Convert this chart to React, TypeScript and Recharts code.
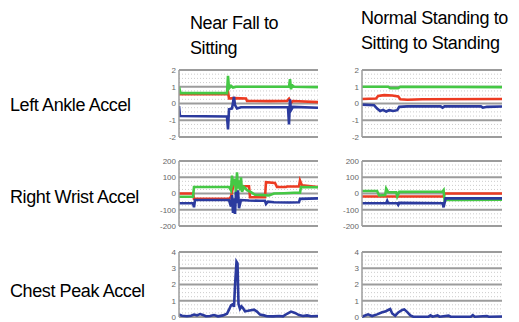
import React from 'react';
import { LineChart, Line, XAxis, YAxis, CartesianGrid, ReferenceLine } from 'recharts';

type Pt = [number, number];

// Column and row titles
const colTitles = [['Near Fall to', 'Sitting'], ['Normal Standing to', 'Sitting to Standing']];
const rowTitles = ['Left Ankle Accel', 'Right Wrist Accel', 'Chest Peak Accel'];

// Y tick labels per row
const ankleTicks = [-2, -1, 0, 1, 2];
const wristTicks = [-200, -100, 0, 100, 200];
const chestTicks = [0, 1, 2, 3, 4];

// Left ankle, near fall
const ankleFallRed: Pt[] = [[0,0.55],[48,0.55],[49,0.7],[50,0.3],[55,0.32],[67,0.3],[68,0.15],[90,0.14],[108,0.15],[110,0.28],[112,0.05],[114,0.15],[139,0.08]];
const ankleFallGreen: Pt[] = [[0,1.0],[1.5,0.62],[48,0.62],[49,1.65],[50,0.9],[52,1.05],[54,0.95],[57,1.0],[110,1.0],[111,1.45],[112,0.85],[113,1.1],[115,1.0],[139,0.98]];
const ankleFallBlue: Pt[] = [[0,-0.15],[1,-0.75],[48,-0.78],[49,-1.55],[50,-0.35],[53,-0.3],[55,0.4],[56,-0.1],[58,-0.3],[62,-0.22],[109,-0.22],[110,-1.25],[111,0.25],[112,-0.4],[114,-0.2],[139,-0.25]];

// Left ankle, normal
const ankleNormRed: Pt[] = [[0,0.27],[14,0.3],[16,0.45],[22,0.5],[30,0.48],[36,0.42],[38,0.25],[45,0.22],[60,0.25],[139,0.27]];
const ankleNormGreen: Pt[] = [[0,1.0],[26,1.0],[28,0.92],[36,0.92],[38,1.0],[139,0.98]];
const ankleNormBlue: Pt[] = [[0,-0.07],[12,-0.1],[15,-0.3],[18,-0.45],[21,-0.38],[24,-0.48],[27,-0.4],[31,-0.45],[35,-0.4],[37,-0.2],[45,-0.17],[78,-0.17],[80,-0.25],[82,-0.17],[118,-0.17],[120,-0.25],[124,-0.2],[139,-0.18]];

// Right wrist, near fall
const wristFallRed: Pt[] = [[0,0],[14,0],[15,-33],[50,-33],[52,-20],[55,70],[60,70],[62,45],[70,45],[71,-23],[86,-23],[87,70],[96,65],[98,40],[107,40],[108,43],[120,43],[121,80],[123,50],[139,40]];
const wristFallGreen: Pt[] = [[0,-20],[14,-20],[15,40],[50,40],[52,20],[53,110],[54,60],[56,90],[57,-10],[58,130],[59,30],[60,80],[61,20],[62,100],[63,10],[65,40],[68,20],[72,8],[76,-8],[85,-10],[90,-12],[95,0],[105,2],[115,5],[121,5],[122,40],[139,38]];
const wristFallBlue: Pt[] = [[0,-60],[14,-60],[15,-85],[16,-40],[50,-40],[52,-80],[53,-10],[54,-120],[55,-30],[56,-126],[57,10],[58,-60],[59,20],[60,-90],[62,-40],[70,-43],[80,-45],[86,-45],[87,-64],[89,-50],[95,-54],[110,-55],[120,-54],[121,-33],[139,-30]];

// Right wrist, normal
const wristNormRed: Pt[] = [[0,-18],[81,-18],[82,0],[139,0]];
const wristNormGreen: Pt[] = [[0,15],[15,15],[17,-12],[23,-10],[24,30],[26,8],[34,8],[35,-18],[37,10],[80,12],[81,20],[82,-43],[84,-38],[100,-40],[139,-38]];
const wristNormBlue: Pt[] = [[0,-60],[24,-60],[25,-45],[26,-60],[35,-60],[36,-70],[37,-58],[80,-60],[81,-85],[83,-30],[139,-30]];

// Chest peak, near fall
const chestFallBlue: Pt[] = [[0,0.15],[3,0.08],[8,0.05],[12,0.08],[15,0.15],[18,0.1],[21,0.18],[24,0.12],[27,0.05],[31,0.06],[35,0.12],[39,0.04],[44,0.1],[48,0.2],[50,0.45],[52,0.72],[54,0.8],[55,0.62],[56,1.9],[57.5,3.4],[58.5,3.3],[59.5,0.8],[61,0.5],[62.5,0.65],[64,0.55],[66,0.35],[69,0.38],[72,0.42],[75,0.45],[78,0.33],[81,0.15],[85,0.1],[88,0.05],[94,0.04],[100,0.06],[104,0.04],[108,0.2],[112,0.33],[116,0.25],[120,0.12],[124,0.06],[128,0.1],[132,0.05],[139,0.06]];

// Chest peak, normal
const chestNormBlue: Pt[] = [[0,0.02],[6,0.16],[10,0.06],[15,0.16],[20,0.29],[23,0.33],[26,0.43],[28,0.49],[30,0.22],[33,0.08],[36,0.28],[40,0.43],[42,0.47],[45,0.3],[48,0.1],[51,0.02],[58,0.02],[66,0.02],[68,0.1],[70,0.02],[75,0.1],[77,0.02],[86,0.08],[88,0.02],[108,0.02],[110,0.12],[112,0.02],[124,0.06],[126,0.02],[139,0.03]];

const RED = '#ec3b22';
const GREEN = '#45c845';
const BLUE = '#2b3a9e';
const FONT = '"Liberation Sans", Arial, sans-serif';

const toData = (pts: Pt[]) => pts.map(([x, y]) => ({ x, y }));

interface PanelProps {
  left: number;
  top: number;
  plotW: number;
  plotH: number;
  ticks: number[];
  series: { pts: Pt[]; color: string }[];
}

const YW = 34;
const MT = 5;
const MB = 4;

function Panel({ left, top, plotW, plotH, ticks, series }: PanelProps) {
  const lo = ticks[0];
  const hi = ticks[ticks.length - 1];
  const step = ticks[1] - ticks[0];
  const minor: number[] = [];
  for (let v = lo; v < hi - 1e-9; v += step) {
    for (let k = 1; k < 4; k++) minor.push(v + (step * k) / 4);
  }
  return (
    <div style={{ position: 'absolute', left: left - YW, top: top - MT }}>
      <LineChart
        width={YW + plotW + 2}
        height={plotH + MT + MB}
        margin={{ top: MT, right: 2, bottom: MB, left: 0 }}
      >
        <CartesianGrid vertical={false} stroke="#9c9c9c" strokeWidth={2} />
        {minor.map((v) => (
          <ReferenceLine key={v} y={v} stroke="#cccccc" strokeDasharray="1 2" strokeWidth={1} />
        ))}
        <XAxis type="number" dataKey="x" domain={[0, 139]} hide allowDataOverflow />
        <YAxis
          type="number"
          domain={[lo, hi]}
          ticks={ticks}
          interval={0}
          width={YW}
          axisLine={{ stroke: '#9c9c9c', strokeWidth: 1.5 }}
          tickLine={false}
          tickMargin={2}
          tickSize={1}
          tick={{ fontSize: 8, fill: '#666', fontFamily: FONT }}
        />
        {series.map((s, i) => (
          <Line
            key={i}
            data={toData(s.pts)}
            dataKey="y"
            type="linear"
            stroke={s.color}
            strokeWidth={2.6}
            dot={false}
            activeDot={false}
            isAnimationActive={false}
          />
        ))}
      </LineChart>
    </div>
  );
}

const textStyle: React.CSSProperties = {
  position: 'absolute',
  fontFamily: FONT,
  fontSize: 18,
  lineHeight: '25px',
  color: '#000',
  whiteSpace: 'nowrap',
  letterSpacing: '-0.4px',
};

export default function App() {
  const leftX = 179;
  const rightX = 362;
  const rows = [
    { top: 70, h: 67, ticks: ankleTicks },
    { top: 161, h: 65, ticks: wristTicks },
    { top: 252, h: 65, ticks: chestTicks },
  ];
  return (
    <div style={{ position: 'absolute', left: 0, top: 0, width: 519, height: 322, background: '#fff', overflow: 'hidden' }}>
      <div style={{ ...textStyle, left: 190, top: 11 }}>
        {colTitles[0][0]}
        <br />
        {colTitles[0][1]}
      </div>
      <div style={{ ...textStyle, left: 361, top: 6 }}>
        {colTitles[1][0]}
        <br />
        {colTitles[1][1]}
      </div>
      <div style={{ ...textStyle, left: 10, top: 93 }}>{rowTitles[0]}</div>
      <div style={{ ...textStyle, left: 10, top: 185 }}>{rowTitles[1]}</div>
      <div style={{ ...textStyle, left: 10, top: 279 }}>{rowTitles[2]}</div>

      <Panel left={leftX} top={rows[0].top} plotW={139} plotH={rows[0].h} ticks={rows[0].ticks}
        series={[{ pts: ankleFallRed, color: RED }, { pts: ankleFallGreen, color: GREEN }, { pts: ankleFallBlue, color: BLUE }]} />
      <Panel left={rightX} top={rows[0].top} plotW={140} plotH={rows[0].h} ticks={rows[0].ticks}
        series={[{ pts: ankleNormRed, color: RED }, { pts: ankleNormGreen, color: GREEN }, { pts: ankleNormBlue, color: BLUE }]} />
      <Panel left={leftX} top={rows[1].top} plotW={139} plotH={rows[1].h} ticks={rows[1].ticks}
        series={[{ pts: wristFallRed, color: RED }, { pts: wristFallGreen, color: GREEN }, { pts: wristFallBlue, color: BLUE }]} />
      <Panel left={rightX} top={rows[1].top} plotW={140} plotH={rows[1].h} ticks={rows[1].ticks}
        series={[{ pts: wristNormRed, color: RED }, { pts: wristNormGreen, color: GREEN }, { pts: wristNormBlue, color: BLUE }]} />
      <Panel left={leftX} top={rows[2].top} plotW={139} plotH={rows[2].h} ticks={rows[2].ticks}
        series={[{ pts: chestFallBlue, color: BLUE }]} />
      <Panel left={rightX} top={rows[2].top} plotW={140} plotH={rows[2].h} ticks={rows[2].ticks}
        series={[{ pts: chestNormBlue, color: BLUE }]} />
    </div>
  );
}
